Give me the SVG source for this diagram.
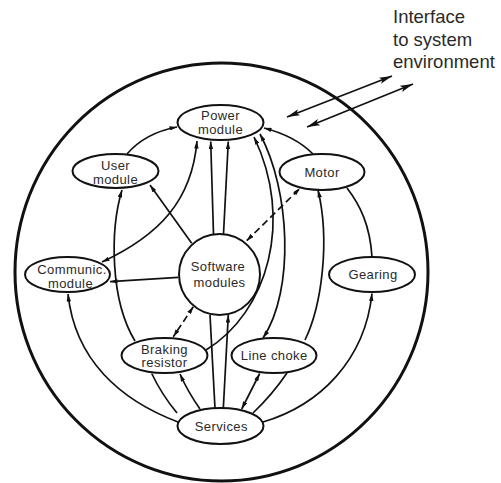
<svg xmlns="http://www.w3.org/2000/svg" width="501" height="483" viewBox="0 0 501 483">
<style>
.n{fill:#fff;stroke:#111;stroke-width:2}
.t{font-family:"Liberation Sans",Arial,sans-serif;font-size:13px;letter-spacing:0.4px;fill:#2a2a2a;text-anchor:middle}
.s{font-family:"Liberation Sans",Arial,sans-serif;font-size:18.5px;fill:#2a2a2a}
.c{fill:none;stroke:#111;stroke-width:1.7}
.d{stroke-dasharray:7,4}
</style>
<defs>
<marker id="a" viewBox="0 0 10 6" refX="10" refY="3" markerWidth="8" markerHeight="4.5" markerUnits="userSpaceOnUse" orient="auto-start-reverse"><path d="M0,0 L10,3 L0,6 Z" fill="#111"/></marker>
<marker id="b" viewBox="0 0 12 6" refX="12" refY="3" markerWidth="13" markerHeight="7" markerUnits="userSpaceOnUse" orient="auto-start-reverse"><path d="M0,0 L12,3 L0,6 L2.5,3 Z" fill="#111"/></marker>
</defs>
<rect width="501" height="483" fill="#fff"/>
<ellipse cx="221.5" cy="272" rx="206.5" ry="209" fill="none" stroke="#111" stroke-width="3"/>
<g id="interface">
<text class="s" x="393" y="22.5">Interface</text>
<text class="s" x="393" y="45.5">to system</text>
<text class="s" x="393" y="68">environment</text>
</g>
<g id="connectors">
<path class="c" d="M287,117 L392,76" marker-start="url(#b)" marker-end="url(#b)" stroke-width="1.6"/>
<path class="c" d="M307,127 L413,84" marker-start="url(#b)" marker-end="url(#b)" stroke-width="1.6"/>
<path class="c" d="M127,154 Q145,133 177,127" marker-end="url(#a)"/>
<path class="c" d="M102,262 C160,235 192,200 197,141" marker-start="url(#a)" marker-end="url(#a)"/>
<path class="c" d="M213.5,234 L210.7,141.5" marker-end="url(#a)"/>
<path class="c" d="M223.5,234 L228.3,141.5" marker-end="url(#a)"/>
<path class="c" d="M191.7,243.3 L150,185" marker-end="url(#a)"/>
<path class="c" d="M178.3,277.3 L110,281.7" marker-end="url(#a)"/>
<path class="c d" d="M246.7,240.7 L300,188.3" marker-start="url(#a)" marker-end="url(#a)"/>
<path class="c d" d="M193.3,306.7 L173.3,336.7" marker-start="url(#a)" marker-end="url(#a)"/>
<path class="c" d="M215,408.5 L210,315"/>
<path class="c" d="M223.3,408.5 L228.3,315" marker-end="url(#a)"/>
<path class="c" d="M206,350 C268,312 294,220 254,137" marker-end="url(#a)"/>
<path class="c" d="M263,338 C295,290 290,190 260,134" marker-start="url(#a)" marker-end="url(#a)"/>
<path class="c" d="M313,154 Q295,136 264,128" marker-end="url(#a)"/>
<path class="c" d="M305,340 C322,305 330,240 318,190" marker-end="url(#a)"/>
<path class="c" d="M372,257 C370,225 360,205 347,188"/>
<path class="c" d="M263,422 C320,405 365,360 372,293.5" marker-end="url(#a)"/>
<path class="c" d="M253,413 Q272,395 287,373"/>
<path class="c" d="M241.7,409 L259.7,373.5" marker-start="url(#a)" marker-end="url(#a)"/>
<path class="c" d="M200,409 Q188,392 180,374" marker-end="url(#a)"/>
<path class="c" d="M177,413 Q162,395 151.7,373.5"/>
<path class="c" d="M178,422 C120,400 75,360 68,294" marker-end="url(#a)"/>
<path class="c" d="M135,341 C110,300 110,230 122,190" marker-end="url(#a)"/>
</g>
<g id="power"><ellipse class="n" cx="220.5" cy="122.5" rx="43" ry="17.5"/><text class="t" x="220.5" y="119.5">Power</text><text class="t" x="220.5" y="133.5">module</text></g>
<g id="user"><ellipse class="n" cx="115.5" cy="171" rx="43" ry="17"/><text class="t" x="115.5" y="169.5">User</text><text class="t" x="115.5" y="184">module</text></g>
<g id="motor"><ellipse class="n" cx="322" cy="172" rx="42.5" ry="18"/><text class="t" x="322" y="177">Motor</text></g>
<g id="communic"><ellipse class="n" cx="67.5" cy="274.5" rx="42.5" ry="17.5"/><text class="t" x="72" y="273.5">Communic.</text><text class="t" x="70.5" y="287.5">module</text></g>
<g id="software"><circle class="n" cx="219.5" cy="274.5" r="40.5"/><text class="t" x="218" y="270.7">Software</text><text class="t" x="219.5" y="287.3">modules</text></g>
<g id="gearing"><ellipse class="n" cx="372" cy="274.5" rx="43" ry="17.5"/><text class="t" x="373" y="279">Gearing</text></g>
<g id="braking"><ellipse class="n" cx="164.5" cy="355.5" rx="43" ry="17.5"/><text class="t" x="164.5" y="353.5">Braking</text><text class="t" x="164.5" y="367">resistor</text></g>
<g id="linechoke"><ellipse class="n" cx="274" cy="355.5" rx="42.5" ry="17.5"/><text class="t" x="274.2" y="360">Line choke</text></g>
<g id="services"><ellipse class="n" cx="220.5" cy="426" rx="43" ry="18"/><text class="t" x="221.3" y="431">Services</text></g>
</svg>
